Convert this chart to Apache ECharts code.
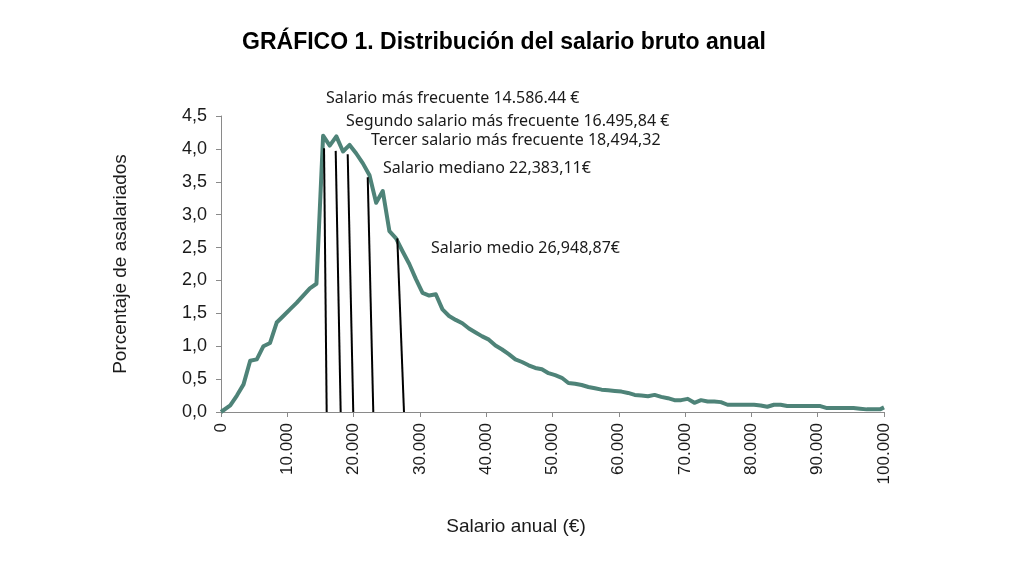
<!DOCTYPE html>
<html>
<head>
    <meta charset="utf-8">
    <title>Distribución del salario bruto anual</title>
    <script src="https://cdn.jsdelivr.net/npm/echarts@6/dist/echarts.min.js"></script>
    <style>
        html, body { margin: 0; padding: 0; background: #fff; }
        #chart { width: 1024px; height: 575px; }
    </style>
</head>
<body>
    <div id="chart"></div>
    <script>
        // % de asalariados por tramo de 1.000 euros (0 .. 100.000)
        var pctAsalariados = [
            0, 0.10, 0.25, 0.42, 0.78, 0.80, 1.00, 1.05, 1.36, 1.46,
            1.56, 1.66, 1.77, 1.88, 1.95, 4.20, 4.05, 4.19, 3.96, 4.06,
            3.93, 3.78, 3.60, 3.18, 3.36, 2.75, 2.64, 2.44, 2.25, 2.02,
            1.81, 1.77, 1.79, 1.56, 1.46, 1.40, 1.35, 1.27, 1.21, 1.15,
            1.10, 1.01, 0.95, 0.88, 0.80, 0.76, 0.71, 0.67, 0.65, 0.59,
            0.56, 0.52, 0.44, 0.43, 0.41, 0.38, 0.36, 0.34, 0.33, 0.32,
            0.31, 0.29, 0.26, 0.25, 0.24, 0.26, 0.23, 0.21, 0.18, 0.18,
            0.20, 0.14, 0.18, 0.16, 0.16, 0.15, 0.11, 0.11, 0.11, 0.11,
            0.11, 0.10, 0.08, 0.11, 0.11, 0.09, 0.09, 0.09, 0.09, 0.09,
            0.09, 0.06, 0.06, 0.06, 0.06, 0.06, 0.05, 0.04, 0.04, 0.04,
            0.07
        ];
        var tramo = 1000;
        var centroTramo = 400;   // el punto se dibuja algo desplazado dentro del tramo
        var salarioMax = 100000;

        // lineas verticales de referencia (arriba / base)
        var refTopSalario = [15540, 17300, 19110, 22130, 26590];
        var refTopPct = [4.01, 3.97, 3.92, 3.57, 2.64];
        var refBaseSalario = [15940, 18050, 19950, 22970, 27600];
        var refTextos = [
            'Salario más frecuente 14.586.44 €',
            'Segundo salario más frecuente 16.495,84 €',
            'Tercer salario más frecuente 18,494,32',
            'Salario mediano 22,383,11€',
            'Salario medio 26,948,87€'
        ];

        var chart = echarts.init(document.getElementById('chart'));

        var serie = [];
        for (var i = 0; i < pctAsalariados.length; i++) {
            var x = i === 0 ? 0 : Math.min(i * tramo + centroTramo, salarioMax);
            serie.push([x, pctAsalariados[i]]);
        }
        var refLineas = [];
        for (var j = 0; j < refTopSalario.length; j++) {
            refLineas.push([
                { coord: [refTopSalario[j], refTopPct[j]] },
                { coord: [refBaseSalario[j], 0] }
            ]);
        }

        // posiciones de los textos (px)
        var textPos = [[326, 98], [346, 121], [371, 140], [383, 168], [431, 248]];
        var graficos = [{
            type: 'text',
            x: 504, y: 43,
            style: {
                text: 'GRÁFICO 1. Distribución del salario bruto anual',
                font: 'bold 23px "Liberation Sans", Arial, sans-serif',
                fill: '#000',
                align: 'center',
                verticalAlign: 'middle'
            }
        }, {
            type: 'text',
            x: 516, y: 527,
            style: {
                text: 'Salario anual (€)',
                font: '19px "Liberation Sans", Arial, sans-serif',
                fill: '#1a1a1a',
                align: 'center',
                verticalAlign: 'middle'
            }
        }];
        for (var t = 0; t < refTextos.length; t++) {
            graficos.push({
                type: 'text',
                x: textPos[t][0], y: textPos[t][1],
                style: {
                    text: refTextos[t],
                    font: '16px "Noto Sans", sans-serif',
                    fill: '#1a1a1a',
                    align: 'left',
                    verticalAlign: 'middle'
                }
            });
        }

        function miles(v) {
            if (v === 0) return '0';
            var s = String(v);
            return s.slice(0, s.length - 3) + '.' + s.slice(s.length - 3);
        }

        var option = {
            animation: false,
            backgroundColor: '#fff',
            grid: { left: 221, right: 140, top: 116, bottom: 163 },
            graphic: graficos,
            xAxis: {
                type: 'value',
                min: 0,
                max: salarioMax,
                interval: 10000,
                splitLine: { show: false },
                axisLine: { lineStyle: { color: '#8a8a8a', width: 1 } },
                axisTick: { show: true, length: 5, lineStyle: { color: '#8a8a8a' } },
                axisLabel: {
                    rotate: 90,
                    margin: 11,
                    fontFamily: 'Liberation Sans',
                    fontSize: 17,
                    color: '#1a1a1a',
                    formatter: miles
                }
            },
            yAxis: {
                type: 'value',
                min: 0,
                max: 4.5,
                interval: 0.5,
                name: 'Porcentaje de asalariados',
                nameLocation: 'middle',
                nameRotate: 90,
                nameGap: 91,
                nameTextStyle: { fontFamily: 'Liberation Sans', fontSize: 19, color: '#1a1a1a' },
                splitLine: { show: false },
                axisLine: { show: true, lineStyle: { color: '#8a8a8a', width: 1 } },
                axisTick: { show: true, length: 5, lineStyle: { color: '#8a8a8a' } },
                axisLabel: {
                    margin: 14,
                    fontFamily: 'Liberation Sans',
                    fontSize: 18,
                    color: '#1a1a1a',
                    formatter: function (v) { return v.toFixed(1).replace('.', ','); }
                }
            },
            series: [{
                type: 'line',
                name: 'Porcentaje de asalariados',
                data: serie,
                showSymbol: false,
                symbol: 'none',
                lineStyle: { color: '#4e8378', width: 4, join: 'round' },
                markLine: {
                    silent: true,
                    symbol: ['none', 'none'],
                    label: { show: false },
                    lineStyle: { color: '#000', width: 2, type: 'solid' },
                    data: refLineas
                }
            }]
        };

        chart.setOption(option);
    </script>
</body>
</html>
